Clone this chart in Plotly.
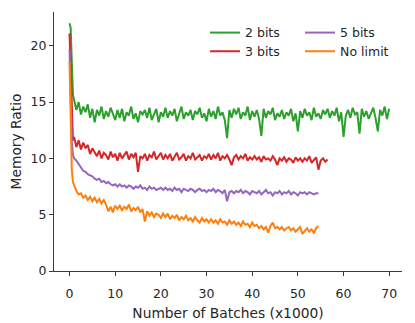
import numpy as np
import plotly.graph_objects as go

# x positions: dense at the start, then every 500 batches
head_x = [0, 0.25, 0.5, 0.75]

bits2 = [22.0, 21.6, 18.5, 15.6,
         15.2, 14.3, 15.0, 13.9, 14.6, 14.1, 14.8, 13.6, 14.4, 13.2,
         14.3, 13.8, 14.6, 13.5, 14.2, 13.7, 14.5, 13.9, 13.4, 14.3,
         13.6, 14.4, 13.3, 14.1, 13.8, 14.6, 13.5, 14.0, 13.2, 14.2,
         13.9, 14.3, 13.6, 14.5, 13.4, 13.9, 14.4, 13.2, 14.1, 13.7,
         14.5, 13.6, 14.2, 13.8, 14.4, 13.3, 14.0, 14.6, 13.5, 14.1,
         13.8, 14.3, 13.4, 14.2, 13.9, 14.5, 13.6, 14.0, 13.3, 14.4,
         13.7, 14.2, 13.5, 14.6, 13.8, 14.1, 13.4, 11.8, 14.3, 13.6,
         14.4, 13.9, 14.5, 13.5, 14.1, 13.8, 14.6, 13.4, 14.2, 13.7,
         14.3, 13.5, 12.0, 14.4, 13.6, 14.2, 13.9, 14.5, 13.4, 14.0,
         13.7, 14.3, 13.5, 14.1, 13.8, 14.4, 13.3, 14.0, 12.4, 14.2,
         13.6, 14.4, 13.8, 14.1, 13.4, 14.5, 13.7, 14.0, 13.5, 14.3,
         13.9, 14.4, 13.6, 14.2, 13.8, 14.5, 13.3, 14.1, 11.9, 13.8,
         14.3, 13.6, 14.5, 13.9, 14.1, 12.2, 14.4, 13.7, 14.2, 13.5,
         14.0, 14.5, 13.6, 12.4, 14.3, 13.8, 14.6, 13.5, 14.4]

bits3 = [21.1, 17.5, 13.0, 11.6,
         11.9, 11.0, 11.6, 10.8, 11.4, 10.9, 11.2, 10.4, 10.9, 10.6,
         10.2, 10.7, 10.0, 10.5, 10.3, 9.9, 10.6, 10.1, 10.4, 9.8,
         10.5, 10.0, 10.3, 10.6, 9.9, 10.4, 10.1, 10.5, 8.8, 10.2,
         10.0, 10.4, 9.8, 10.3, 10.1, 10.6, 9.9, 10.2, 10.5, 9.9,
         10.3, 10.0, 10.4, 9.8, 10.2, 10.5, 9.9, 10.1, 10.4, 9.8,
         10.2, 10.0, 10.5, 9.9, 10.1, 10.3, 9.8, 10.2, 10.0, 10.4,
         9.9, 10.3, 10.0, 10.5, 9.8, 10.2, 10.0, 10.3, 9.9, 9.4,
         10.1, 10.3, 9.9, 10.2, 10.0, 10.4, 9.8, 10.1, 9.9, 10.2,
         9.9, 10.1, 9.7, 10.2, 9.9, 10.0, 9.8, 10.2, 9.9, 9.4,
         10.0, 9.8, 10.1, 9.7, 10.0, 9.9, 9.6, 10.1, 9.8, 10.0,
         9.7, 10.0, 9.8, 10.2, 9.6, 9.9, 10.1, 9.0, 9.8, 10.0,
         9.7, 9.9]

bits5 = [19.7, 15.5, 11.5, 10.3,
         10.0, 9.8, 9.5, 9.2, 8.9, 8.8, 8.6, 8.5, 8.4, 8.2,
         8.1, 8.2, 7.9, 8.0, 7.8, 7.9, 7.7, 7.6, 7.7, 7.5,
         7.7, 7.5, 7.6, 7.4, 7.6, 7.5, 7.3, 7.5, 7.4, 7.6,
         7.3, 7.4, 7.2, 7.5, 7.3, 7.4, 7.2, 7.3, 7.4, 7.2,
         7.4, 7.2, 7.3, 7.1, 7.4, 7.2, 7.3, 7.0, 7.3, 7.2,
         7.1, 7.3, 7.2, 7.0, 7.2, 7.3, 7.1, 7.2, 7.0, 7.2,
         7.1, 7.3, 7.0, 7.2, 7.1, 6.9, 7.2, 6.2, 7.0, 7.1,
         6.9, 7.1, 7.0, 7.2, 6.9, 7.1, 7.0, 6.8, 7.1, 7.0,
         6.9, 7.1, 6.8, 7.0, 7.2, 6.9, 7.0, 6.7, 7.0, 6.9,
         7.1, 6.8, 7.0, 6.9, 7.1, 6.8, 7.0, 6.9, 6.7, 7.0,
         6.9, 7.0, 6.8, 7.0, 6.9, 6.8, 6.9, 6.9]

no_limit = [18.6, 13.0, 9.0, 7.9,
            7.6, 7.1, 6.8, 6.9, 6.5, 6.7, 6.3, 6.6, 6.2, 6.5,
            6.1, 6.4, 6.0, 6.3, 5.9, 5.3, 5.7, 5.2, 5.8, 5.5,
            5.8, 5.4, 5.7, 5.5, 5.9, 5.3, 5.6, 5.4, 5.7, 5.2,
            5.5, 4.4, 5.3, 4.9, 5.2, 4.8, 5.1, 5.0, 4.7, 5.1,
            4.8, 5.1, 4.6, 4.9, 4.7, 5.0, 4.5, 4.8, 4.6, 4.9,
            4.5, 4.7, 4.4, 4.8, 4.5, 4.3, 4.7, 4.4, 4.6, 4.3,
            4.6, 4.3, 4.5, 4.2, 4.6, 4.3, 4.4, 4.1, 4.5, 4.2,
            4.4, 4.1, 4.3, 4.0, 4.4, 4.1, 4.2, 3.9, 4.3, 4.0,
            4.1, 3.8, 4.0, 3.7, 3.9, 3.4, 4.0, 4.3, 3.8, 3.9,
            3.7, 3.9, 3.6, 3.8, 3.9, 3.6, 3.8, 3.5, 3.7, 3.9,
            3.3, 3.6, 3.8, 3.5, 3.7, 3.4, 3.8, 4.0]

names = ["2 bits", "3 bits", "5 bits", "No limit"]
colors = ["#2ca02c", "#d62728", "#9467bd", "#ff7f0e"]
legends = ["legend", "legend2", "legend3", "legend4"]  # one legend per entry, 2x2 grid

def xs(vals):
    n = len(vals) - len(head_x)
    return head_x + list(1.0 + 0.5 * np.arange(n))

fig = go.Figure()
for vals, nm, c, lg in zip([bits2, bits3, bits5, no_limit], names, colors, legends):
    fig.add_trace(go.Scatter(x=xs(vals), y=vals, mode="lines", name=nm,
                             line=dict(color=c, width=2), legend=lg))

axis_col = "#3a3a3a"
leg_style = dict(orientation="v", yanchor="top", xanchor="left",
                 bgcolor="rgba(0,0,0,0)", font=dict(size=12.5),
                 tracegroupgap=0, itemwidth=30)
col1, col2 = 0.434, 0.707
row1, row2 = 0.977, 0.905
fig.update_layout(
    width=415, height=323,
    # page body adds an 8px offset, so margins are shifted to compensate
    margin=dict(l=46, r=21, t=4, b=60),
    paper_bgcolor="white", plot_bgcolor="white",
    font=dict(family="DejaVu Sans", size=12.5, color="#262626"),
    showlegend=True,
    legend=dict(x=col1, y=row1, **leg_style),
    legend2=dict(x=col1, y=row2, **leg_style),
    legend3=dict(x=col2, y=row1, **leg_style),
    legend4=dict(x=col2, y=row2, **leg_style),
)
fig.update_xaxes(range=[-3.4, 72.8], tickvals=[0, 10, 20, 30, 40, 50, 60, 70],
                 showline=True, linecolor=axis_col, linewidth=1.2,
                 ticks="outside", ticklen=4, tickcolor=axis_col, tickwidth=1.2,
                 ticklabelstandoff=7,
                 showgrid=False, zeroline=False, automargin=False,
                 title=dict(text="Number of Batches (x1000)", font=dict(size=13.8), standoff=8))
fig.update_yaxes(range=[0, 23], tickvals=[0, 5, 10, 15, 20],
                 showline=True, linecolor=axis_col, linewidth=1.2,
                 ticks="outside", ticklen=4, tickcolor=axis_col, tickwidth=1.2,
                 showgrid=False, zeroline=False, automargin=False,
                 title=dict(text="Memory Ratio", font=dict(size=13.8), standoff=8))

fig.write_html("out.html")
